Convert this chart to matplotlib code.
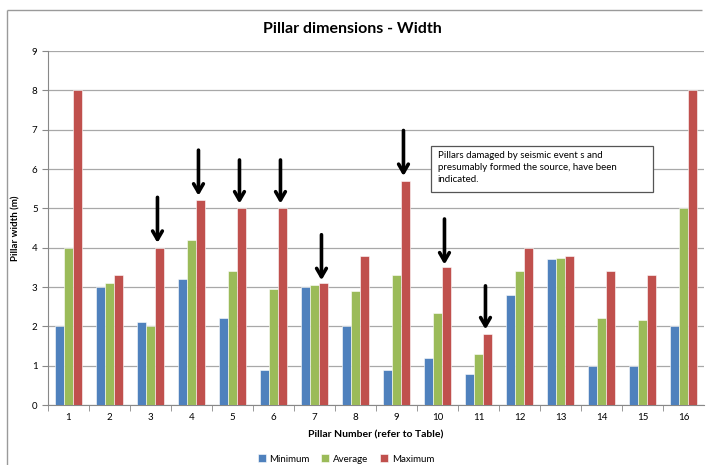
import numpy as np
import matplotlib
matplotlib.use("Agg")
import matplotlib.pyplot as plt
from matplotlib.lines import Line2D
from matplotlib.patches import Rectangle

plt.rcParams['font.family'] = ['Lato', 'DejaVu Sans']

# data
pillars = [str(i) for i in range(1, 17)]
minimum = [2.0, 3.0, 2.1, 3.2, 2.2, 0.9, 3.0, 2.0, 0.9, 1.2, 0.8, 2.8, 3.7, 1.0, 1.0, 2.0]
average = [4.0, 3.1, 2.0, 4.2, 3.4, 2.95, 3.05, 2.9, 3.3, 2.35, 1.3, 3.4, 3.75, 2.2, 2.15, 5.0]
maximum = [8.0, 3.3, 4.0, 5.2, 5.0, 5.0, 3.1, 3.8, 5.7, 3.5, 1.8, 4.0, 3.8, 3.4, 3.3, 8.0]

# damaged pillars (arrows): pillar number, arrow start, arrow tip
damaged = [3, 4, 5, 6, 7, 9, 10, 11]
arrow_top = [5.35, 6.55, 6.3, 6.3, 4.4, 7.05, 4.8, 3.1]
arrow_tip = [4.05, 5.25, 5.05, 5.05, 3.1, 5.75, 3.5, 1.85]

note = 'Pillars damaged by seismic event s and\npresumably formed the source, have been\nindicated.'

colors = ['#4F81BD', '#9BBB59', '#C0504D']
names = ['Minimum', 'Average', 'Maximum']

W, H = 706, 465
fig = plt.figure(figsize=(W / 100, H / 100), dpi=100)

# outer chart frame (only left and top edges show)
fig.lines.append(Line2D([7 / W, 7 / W], [0, 1 - 10 / H], transform=fig.transFigure,
                        color='#9a9a9a', lw=1.0, solid_capstyle='butt'))
fig.lines.append(Line2D([7 / W, 702 / W], [1 - 10 / H, 1 - 10 / H], transform=fig.transFigure,
                        color='#9a9a9a', lw=1.0, solid_capstyle='butt'))

ax = fig.add_axes([48 / W, 60 / H, (704 - 48) / W, (405 - 51) / H])

x = np.arange(1, 17)
bw = 0.22
for k, (vals, c, n) in enumerate(zip([minimum, average, maximum], colors, names)):
    ax.bar(x + (k - 1) * bw, vals, bw, color=c, edgecolor='white', linewidth=0.4, label=n, zorder=3)

for p, t, b in zip(damaged, arrow_top, arrow_tip):
    ax.annotate('', xy=(p + 0.17, b), xytext=(p + 0.17, t),
                arrowprops=dict(arrowstyle='->,head_length=0.6,head_width=0.35', lw=2.6, color='black'),
                zorder=5)

ax.set_xlim(0.5, 16.5)
ax.set_ylim(0, 9)
ax.set_yticks(range(0, 10))
ax.set_xticks(x)
ax.set_xticklabels(pillars)
ax.set_xticks(np.arange(0.5, 16.0, 1.0), minor=True)
ax.tick_params(axis='x', which='major', length=0, labelsize=7, pad=6)
ax.tick_params(axis='x', which='minor', length=4, color='#888888', direction='out')
ax.tick_params(axis='y', labelsize=7, length=4, color='#888888')
ax.yaxis.grid(True, color='#a8a8a8', lw=0.9, zorder=0)
for s in ['top', 'right']:
    ax.spines[s].set_visible(False)
ax.spines['left'].set_color('#888888')
ax.spines['bottom'].set_color('#888888')

ax.set_ylabel('Pillar width (m)', fontsize=7, fontweight='bold', labelpad=8)
ax.set_xlabel('Pillar Number (refer to Table)', fontsize=7.5, fontweight='bold', labelpad=6)

fig.text(352 / W, 1 - 29 / H, 'Pillar dimensions - Width',
         ha='center', va='center', fontsize=11.5, fontweight='bold')

# note box
ax.add_patch(Rectangle((9.83, 5.42), 5.43, 1.17, facecolor='white', edgecolor='#555555', lw=0.9, zorder=6))
ax.text(10.0, 6.46, note, fontsize=7, va='top', ha='left', linespacing=1.4, zorder=7)

fig.legend(loc='center', bbox_to_anchor=(0.49, 1 - 459 / H), ncol=3, frameon=False, fontsize=7,
           handlelength=0.8, handleheight=0.8, handletextpad=0.4, columnspacing=1.2)

fig.savefig('out.png', dpi=100)
